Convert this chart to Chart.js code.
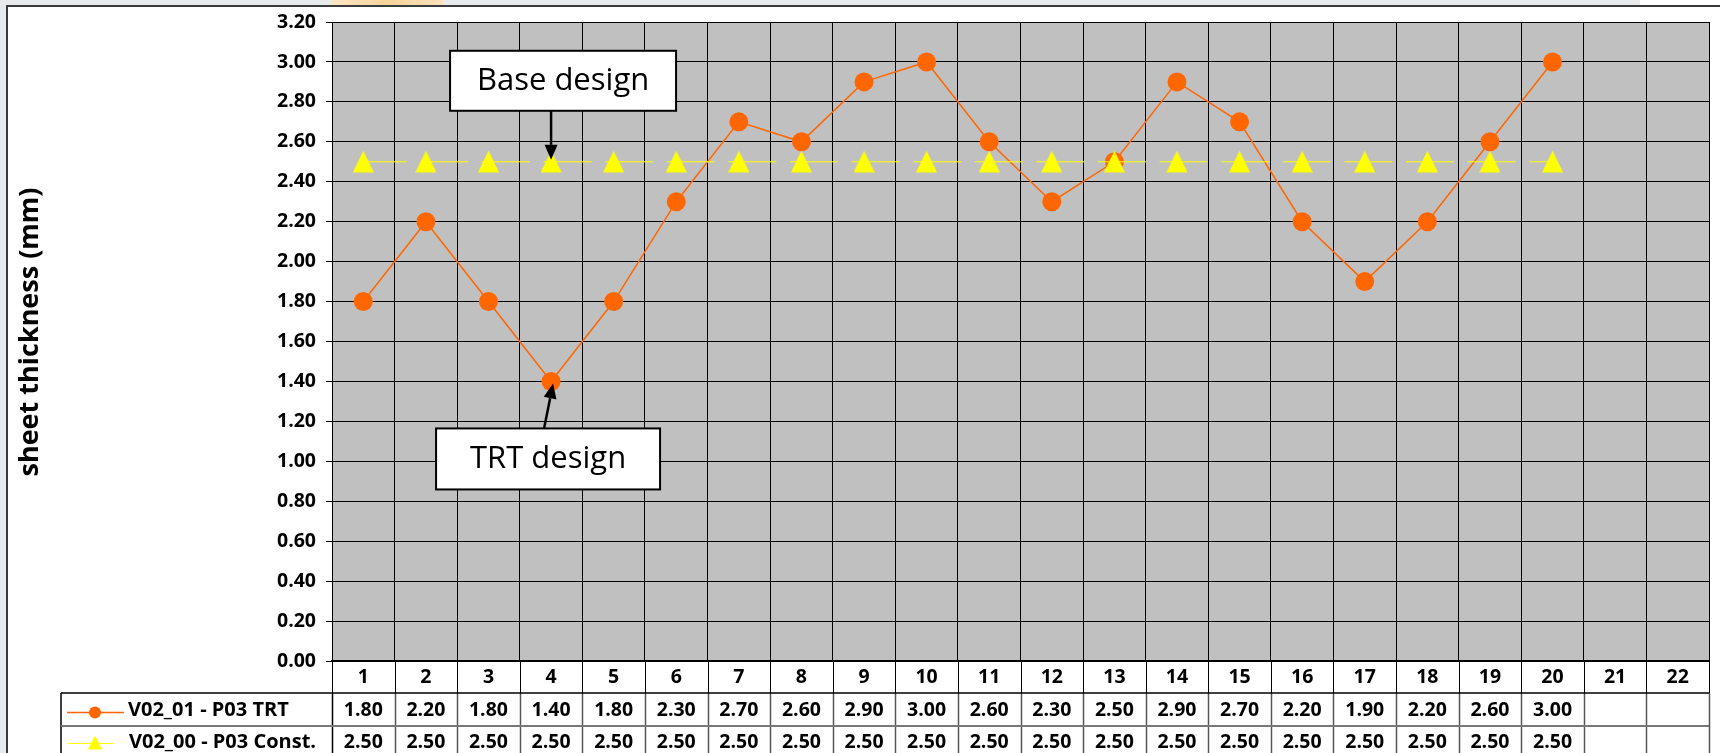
<!DOCTYPE html>
<html>
<head>
<meta charset="utf-8">
<script src="https://cdn.jsdelivr.net/npm/chart.js@4.4.1/dist/chart.umd.min.js"></script>
<style>
  html, body { margin: 0; padding: 0; background: #fff; }
  canvas { display: block; }
</style>
</head>
<body>
<canvas id="myChart" width="1720" height="753"></canvas>
<script>
// valeurs
const categories = ['1', '2', '3', '4', '5', '6', '7', '8', '9', '10', '11', '12', '13', '14', '15', '16', '17', '18', '19', '20', '21', '22']
const trtValues = [1.80, 2.20, 1.80, 1.40, 1.80, 2.30, 2.70, 2.60, 2.90, 3.00, 2.60, 2.30, 2.50, 2.90, 2.70, 2.20, 1.90, 2.20, 2.60, 3.00]
const constValues = [2.50, 2.50, 2.50, 2.50, 2.50, 2.50, 2.50, 2.50, 2.50, 2.50, 2.50, 2.50, 2.50, 2.50, 2.50, 2.50, 2.50, 2.50, 2.50, 2.50]
const seriesNames = ['V02_01 - P03 TRT', 'V02_00 - P03 Const.']
const yMin = 0
const yMax = 3.2
const yStep = 0.2
const yTitle = 'sheet thickness (mm)'
const notes = ['Base design', 'TRT design']

const FONT = "'Open Sans', 'DejaVu Sans', sans-serif"
const ORANGE = '#ff6600'
const YELLOW = '#ffff00'

// triangle jaune (un peu plus haut que large, comme dans Excel)
const tri = document.createElement('canvas')
tri.width = 21
tri.height = 22
{
  const t = tri.getContext('2d')
  t.fillStyle = YELLOW
  t.beginPath()
  t.moveTo(10.5, 0)
  t.lineTo(21, 21.5)
  t.lineTo(0, 21.5)
  t.closePath()
  t.fill()
}

function line(c, x1, y1, x2, y2) {
  c.beginPath()
  c.moveTo(x1, y1)
  c.lineTo(x2, y2)
  c.stroke()
}

function arrow(c, x1, y1, x2, y2) {
  const a = Math.atan2(y2 - y1, x2 - x1)
  const len = 15, half = 6.5
  const bx = x2 - Math.cos(a) * len, by = y2 - Math.sin(a) * len
  c.strokeStyle = '#000'
  c.lineWidth = 2.5
  line(c, x1, y1, bx, by)
  c.fillStyle = '#000'
  c.beginPath()
  c.moveTo(x2, y2)
  c.lineTo(bx + Math.sin(a) * half, by - Math.cos(a) * half)
  c.lineTo(bx - Math.sin(a) * half, by + Math.cos(a) * half)
  c.closePath()
  c.fill()
}

function noteBox(c, x, y, w, h, text) {
  c.fillStyle = '#fff'
  c.fillRect(x, y, w, h)
  c.strokeStyle = '#000'
  c.lineWidth = 2
  c.strokeRect(x, y, w, h)
  c.fillStyle = '#000'
  c.font = '31px ' + FONT
  c.textAlign = 'center'
  c.textBaseline = 'middle'
  c.fillText(text, x + w / 2, y + h / 2)
}

// fond, bandeau gris, cadre, fond gris du tracé et titre vertical
const decor = {
  id: 'decor',
  beforeDraw(chart) {
    const c = chart.ctx
    const W = chart.width, H = chart.height
    const a = chart.chartArea
    c.save()
    c.fillStyle = '#fff'
    c.fillRect(0, 0, W, H)
    c.fillStyle = '#e9eaec'
    c.fillRect(0, 0, 1640, 6)
    c.fillRect(0, 0, 6, H)
    const g = c.createLinearGradient(332, 0, 443, 0)
    g.addColorStop(0, '#fbe6c4')
    g.addColorStop(0.5, '#f8d39a')
    g.addColorStop(1, '#fbe2bc')
    c.fillStyle = g
    c.fillRect(332, 0, 111, 6)
    c.fillStyle = '#3a3a3a'
    c.fillRect(6, 5, W - 6, 2)
    c.fillRect(6, 5, 2, H)
    c.fillStyle = '#c0c0c0'
    c.fillRect(a.left, a.top, a.right - a.left, a.bottom - a.top)

    c.translate(30, 332)
    c.rotate(-Math.PI / 2)
    c.fillStyle = '#000'
    c.font = 'bold 27px ' + FONT
    c.textAlign = 'center'
    c.textBaseline = 'middle'
    c.fillText(yTitle, 0, 0)
    c.restore()
  }
}

// annotations "Base design" et "TRT design"
const annotations = {
  id: 'annotations',
  afterDatasetsDraw(chart) {
    const c = chart.ctx
    const xs = chart.scales.x, ys = chart.scales.y
    c.save()
    let ax = xs.getPixelForValue(3), ay = ys.getPixelForValue(constValues[3])
    noteBox(c, ax - 101, ay - 111, 226, 60, notes[0])
    arrow(c, ax, ay - 51, ax, ay - 2)
    ax = xs.getPixelForValue(3)
    ay = ys.getPixelForValue(trtValues[3])
    noteBox(c, ax - 115, ay + 47, 224, 61, notes[1])
    arrow(c, ax - 7, ay + 47, ax + 2, ay + 2)
    c.restore()
  }
}

// tableau de données sous le graphique
const dataTable = {
  id: 'dataTable',
  afterDraw(chart) {
    const c = chart.ctx
    const xs = chart.scales.x
    const area = chart.chartArea
    const H = chart.height
    const n = categories.length
    const colW = (area.right - area.left) / n
    const top = area.bottom
    const r0 = top + 32, r1 = r0 + 33, r2 = r1 + 33
    const left = 61
    c.save()
    c.strokeStyle = '#000'
    c.lineWidth = 1
    for (let i = 0; i <= n; i++) {
      const x = Math.round(area.left + i * colW) + 0.5
      line(c, x, top, x, r0)
    }
    c.strokeStyle = '#555'
    c.lineWidth = 1.5
    for (let i = 1; i <= n; i++) {
      const x = Math.round(area.left + i * colW) + 0.5
      line(c, x, r0, x, H)
    }
    c.strokeStyle = '#000'
    c.lineWidth = 1.5
    line(c, area.left + 0.5, r0, area.left + 0.5, H)
    line(c, left, r0, left, H)
    line(c, left, r0, area.right, r0)
    c.strokeStyle = '#777'
    c.lineWidth = 2
    line(c, left, r1, area.right, r1)

    c.fillStyle = '#000'
    c.font = 'bold 19.5px ' + FONT
    c.textAlign = 'center'
    c.textBaseline = 'middle'
    trtValues.forEach((v, i) => c.fillText(v.toFixed(2), xs.getPixelForValue(i), (r0 + r1) / 2 + 1))
    constValues.forEach((v, i) => c.fillText(v.toFixed(2), xs.getPixelForValue(i), (r1 + r2) / 2))

    // légende
    const y1 = (r0 + r1) / 2 + 3, y2 = (r1 + r2) / 2 + 1
    c.strokeStyle = ORANGE
    c.lineWidth = 1.5
    line(c, 67, y1, 124, y1)
    c.fillStyle = ORANGE
    c.beginPath()
    c.arc(95, y1, 6, 0, Math.PI * 2)
    c.fill()
    c.strokeStyle = YELLOW
    c.lineWidth = 1
    line(c, 67, y2, 113, y2)
    c.fillStyle = YELLOW
    c.beginPath()
    c.moveTo(95, y2 - 8)
    c.lineTo(102, y2 + 6)
    c.lineTo(88, y2 + 6)
    c.closePath()
    c.fill()
    c.fillStyle = '#000'
    c.font = 'bold 20px ' + FONT
    c.textAlign = 'left'
    c.fillText(seriesNames[0], 128, (r0 + r1) / 2 + 1)
    c.fillText(seriesNames[1], 129, (r1 + r2) / 2)
    c.restore()
  }
}

let ctx = document.querySelector('#myChart')
new Chart(ctx, {
  type: 'line',
  data: {
    labels: categories,
    datasets: [
      {
        label: seriesNames[0],
        data: trtValues,
        borderColor: ORANGE,
        backgroundColor: ORANGE,
        borderWidth: 1.5,
        pointStyle: 'circle',
        pointRadius: 9.5,
        pointBorderWidth: 0,
        tension: 0,
        order: 1
      },
      {
        label: seriesNames[1],
        data: constValues,
        borderColor: YELLOW,
        backgroundColor: YELLOW,
        borderWidth: 1,
        borderDash: [48, 13.6],
        borderDashOffset: 4.5,
        pointStyle: tri,
        pointRadius: 11,
        pointBorderWidth: 0,
        tension: 0,
        order: 0
      }
    ]
  },
  options: {
    responsive: false,
    animation: false,
    events: [],
    layout: { padding: { top: 22, left: 0, right: 0, bottom: 0 } },
    plugins: {
      legend: { display: false },
      tooltip: { enabled: false }
    },
    scales: {
      x: {
        offset: true,
        grid: { offset: true, color: '#000', lineWidth: 1, drawTicks: false },
        border: { color: '#000', width: 1.5 },
        ticks: { color: '#000', font: { family: FONT, size: 19.5, weight: 'bold' }, padding: 5, maxRotation: 0, autoSkip: false },
        afterFit(scale) { scale.height = 92 }
      },
      y: {
        min: yMin,
        max: yMax,
        grid: { color: '#000', lineWidth: 1, tickLength: 6 },
        border: { color: '#000', width: 1 },
        ticks: {
          stepSize: yStep,
          color: '#000',
          padding: 10,
          font: { family: FONT, size: 19.5, weight: 'bold' },
          callback: v => v.toFixed(2)
        },
        afterFit(scale) { scale.width = 332 }
      }
    }
  },
  plugins: [decor, annotations, dataTable]
})
</script>
</body>
</html>
